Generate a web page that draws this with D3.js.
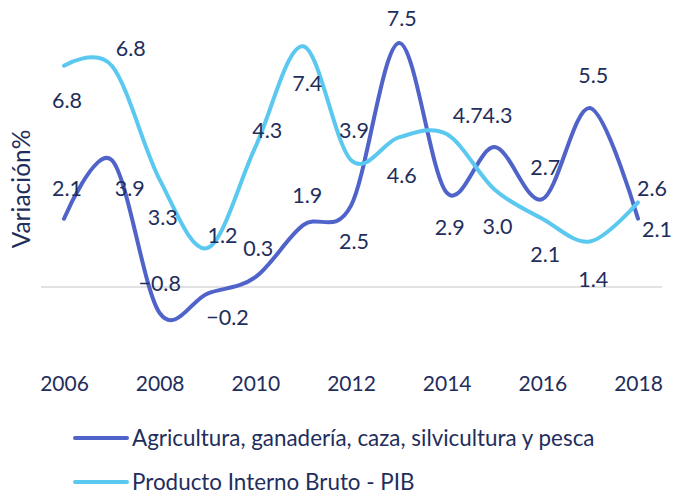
<!DOCTYPE html>
<html><head><meta charset="utf-8">
<script src="https://cdn.jsdelivr.net/npm/d3@7"></script>
<style>
html,body{margin:0;padding:0;background:#fff;}
svg{display:block;font-family:Lato,"Open Sans",sans-serif;}
</style></head>
<body><svg id="c" width="673" height="495"></svg>
<script>
const years = [2006,2007,2008,2009,2010,2011,2012,2013,2014,2015,2016,2017,2018];
const tickYears = [2006,2008,2010,2012,2014,2016,2018];
const agriValues = [2.1,3.9,-0.8,-0.2,0.3,1.9,2.5,7.5,2.9,4.3,2.7,5.5,2.1];
const pibValues = [6.8,6.8,3.3,1.2,4.3,7.4,3.9,4.6,4.7,3.0,2.1,1.4,2.6];
const seriesNames = ["Agricultura, ganadería, caza, silvicultura y pesca","Producto Interno Bruto - PIB"];
const yTitle = "Variación%";

// label placement offsets (dx, dy) in px
const agriLabelOffsets = [[3,-30],[18,28],[0,-30],[20,24],[3,-29],[4,-30],[3,36],[3,-25],[3,35],[3,-32],[3,-32],[3,-33],[19,11]];
const pibLabelOffsets = [[3,34],[19,-18],[3,38],[15,-13],[12,-17],[4,37],[3,-30],[3,38],[21,-19],[3,37],[3,36],[3,38],[14,-14]];

const textColor = "#1f2e5c";
const colors = ["#4f63c9","#5bc8f0"];

const svg = d3.select("#c");
const x = d3.scaleLinear().domain([2006,2018]).range([64,638]);
const y = d3.scaleLinear().domain([0,7.5]).range([287,43]);

// zero line
svg.append("line").attr("x1",41).attr("x2",662).attr("y1",y(0)).attr("y2",y(0))
  .attr("stroke","#d9d9d9").attr("stroke-width",1.3);

// x axis labels
const xAxis = d3.axisBottom(x).tickValues(tickYears).tickFormat(d3.format("d")).tickSize(0).tickPadding(0);
const gx = svg.append("g").attr("transform","translate(0,376)").call(xAxis);
gx.select(".domain").remove();
gx.selectAll("text").attr("fill",textColor).attr("font-size",21)
  .attr("font-family","Lato,'Open Sans',sans-serif").attr("dy","0.71em");

// y title
svg.append("text").attr("transform","translate(30,189) rotate(-90)")
  .attr("text-anchor","middle").attr("fill",textColor).attr("font-size",24.5).text(yTitle);

const line = d3.line().x((d,i)=>x(years[i])).y(d=>y(d)).curve(d3.curveCardinal.tension(0));

const series = [
  {vals: agriValues, offs: agriLabelOffsets, color: colors[0]},
  {vals: pibValues, offs: pibLabelOffsets, color: colors[1]}
];

series.forEach(s=>{
  svg.append("path").datum(s.vals).attr("d",line).attr("fill","none")
    .attr("stroke",s.color).attr("stroke-width",4).attr("stroke-linecap","round");
});
series.forEach(s=>{
  svg.append("g").selectAll("text").data(s.vals).join("text")
    .attr("x",(d,i)=>x(years[i])+s.offs[i][0])
    .attr("y",(d,i)=>y(d)+s.offs[i][1])
    .attr("dy","0.36em")
    .attr("text-anchor","middle").attr("fill",textColor).attr("font-size",21.5)
    .text(d=>d3.format(".1f")(d));
});

// legend
const legY = [438,482];
seriesNames.forEach((n,i)=>{
  svg.append("line").attr("x1",75).attr("x2",127).attr("y1",legY[i]).attr("y2",legY[i])
    .attr("stroke",colors[i]).attr("stroke-width",4).attr("stroke-linecap","round");
  svg.append("text").attr("x",132).attr("y",legY[i]).attr("dy","0.36em")
    .attr("fill",textColor).attr("font-size",22.4).text(n);
});
</script></body></html>
